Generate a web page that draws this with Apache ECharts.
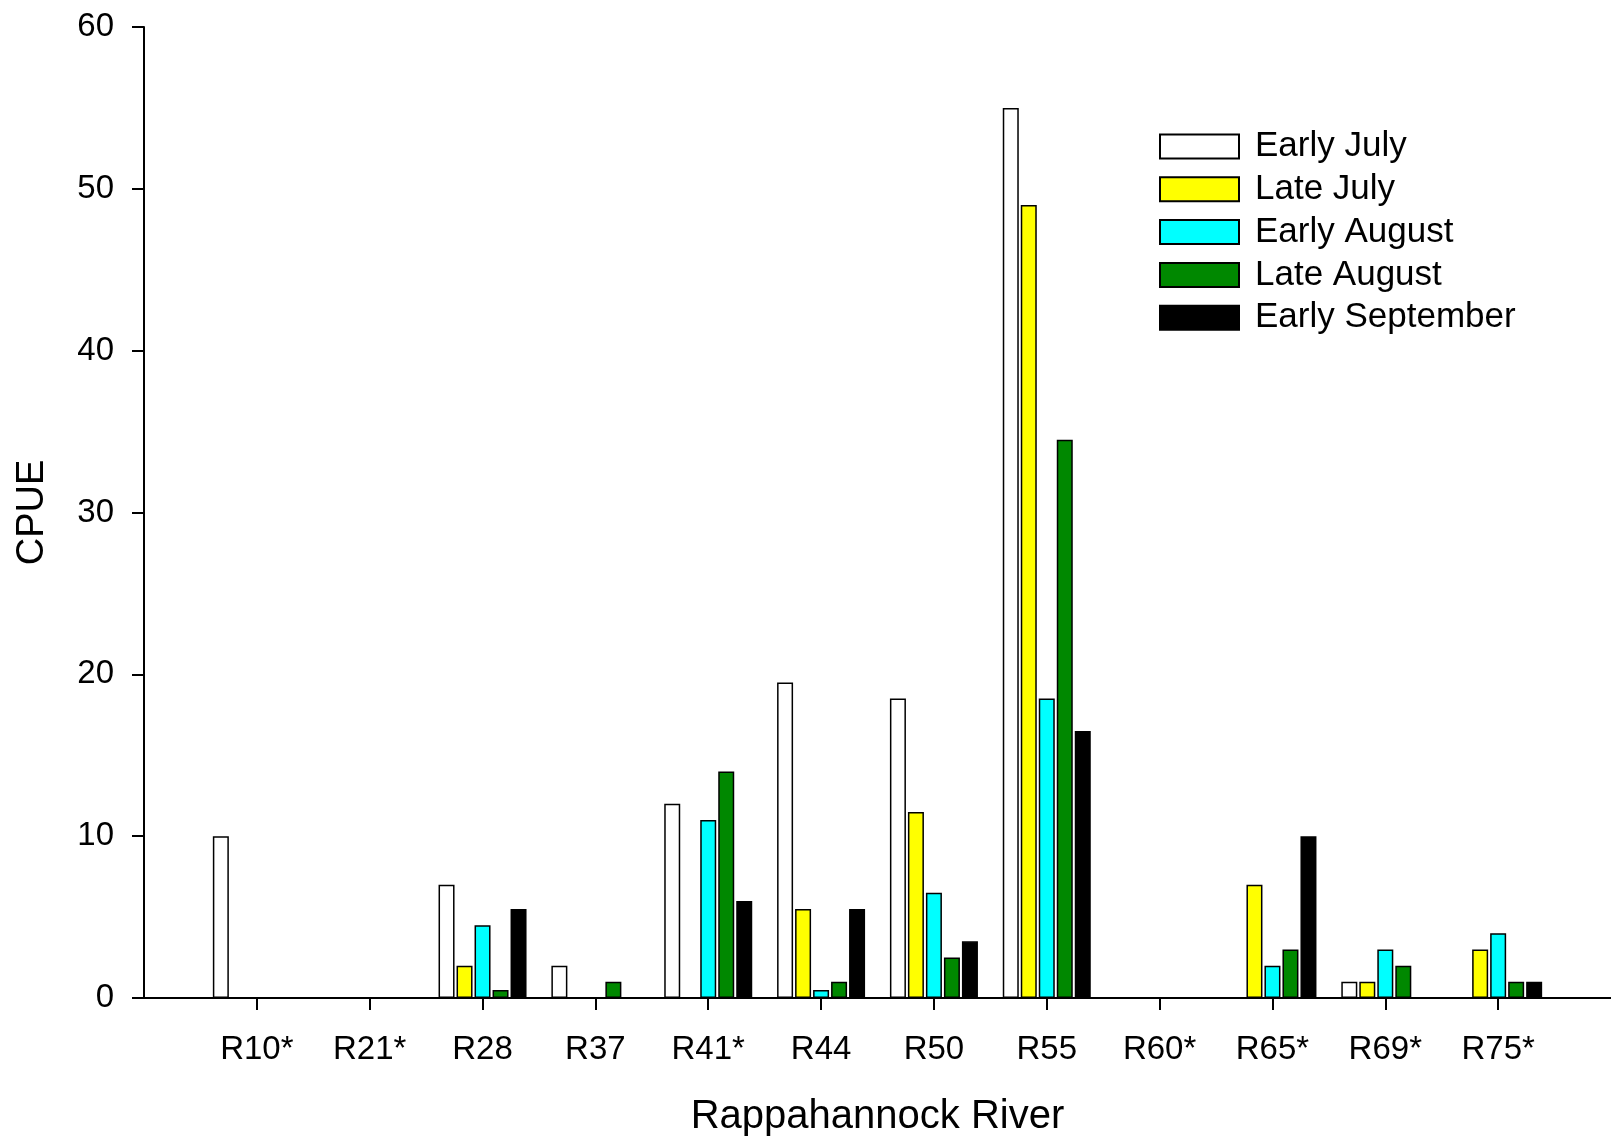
<!DOCTYPE html>
<html>
<head>
<meta charset="utf-8">
<script src="https://cdn.jsdelivr.net/npm/echarts@6/dist/echarts.min.js"></script>
<style>
html,body{margin:0;padding:0;background:#fff;}
#chart{width:1611px;height:1136px;}
</style>
</head>
<body>
<div id="chart"></div>
<script>
const categories = ['R10*','R21*','R28','R37','R41*','R44','R50','R55','R60*','R65*','R69*','R75*'];
const seriesNames = ['Early July','Late July','Early August','Late August','Early September'];
const earlyJuly     = [10, 0, 7,   2, 12, 19.5, 18.5, 55,   0, 0,  1, 0];
const lateJuly      = [0,  0, 2,   0, 0,  5.5,  11.5, 49,   0, 7,  1, 3];
const earlyAugust   = [0,  0, 4.5, 0, 11, 0.5,  6.5,  18.5, 0, 2,  3, 4];
const lateAugust    = [0,  0, 0.5, 1, 14, 1,    2.5,  34.5, 0, 3,  2, 1];
const earlySeptember= [0,  0, 5.5, 0, 6,  5.5,  3.5,  16.5, 0, 10, 0, 1];
const yTicks = [0, 10, 20, 30, 40, 50, 60];

const colors = ['#ffffff','#ffff00','#00ffff','#008800','#000000'];
const allValues = [earlyJuly, lateJuly, earlyAugust, lateAugust, earlySeptember];

const xData = [''].concat(categories).concat(['']);
const font = 'Liberation Sans, Arial, sans-serif';

const series = allValues.map((vals, i) => ({
  name: seriesNames[i],
  type: 'bar',
  barWidth: 16,
  barGap: '12.5%',
  data: [null].concat(vals.map(v => v === 0 ? null : v)).concat([null]),
  itemStyle: { color: colors[i], borderColor: '#000', borderWidth: 1.5 }
}));

const chart = echarts.init(document.getElementById('chart'));
chart.setOption({
  animation: false,
  backgroundColor: '#fff',
  grid: { left: 144, right: 0, top: 27, bottom: 138, containLabel: false, outerBoundsMode: 'none' },
  legend: {
    orient: 'vertical',
    icon: 'rect',
    left: 1154,
    top: 124,
    itemWidth: 79,
    itemHeight: 24,
    itemGap: 7.8,
    textStyle: { fontFamily: font, fontSize: 35, color: '#000', padding: [0, 0, 0, 11] },
    data: seriesNames
  },
  xAxis: {
    type: 'category',
    data: xData,
    boundaryGap: false,
    name: 'Rappahannock River',
    nameLocation: 'middle',
    nameGap: 99,
    nameTextStyle: { fontFamily: font, fontSize: 40, color: '#000' },
    axisLine: { show: true, lineStyle: { color: '#000', width: 2 } },
    axisTick: { show: true, length: 12, inside: false, lineStyle: { color: '#000', width: 2 },
      interval: function (idx, val) { return val !== ''; } },
    axisLabel: { interval: 0, fontFamily: font, fontSize: 33, color: '#000', margin: 35 },
    splitLine: { show: false }
  },
  yAxis: {
    type: 'value',
    min: yTicks[0],
    max: yTicks[yTicks.length - 1],
    interval: 10,
    name: 'CPUE',
    nameLocation: 'middle',
    nameGap: 92,
    nameRotate: 90,
    nameTextStyle: { fontFamily: font, fontSize: 38, color: '#000' },
    axisLine: { show: true, lineStyle: { color: '#000', width: 2 } },
    axisTick: { show: true, length: 12, lineStyle: { color: '#000', width: 2 } },
    axisLabel: { fontFamily: font, fontSize: 33, color: '#000', margin: 30 },
    splitLine: { show: false }
  },
  series: series
});
</script>
</body>
</html>
